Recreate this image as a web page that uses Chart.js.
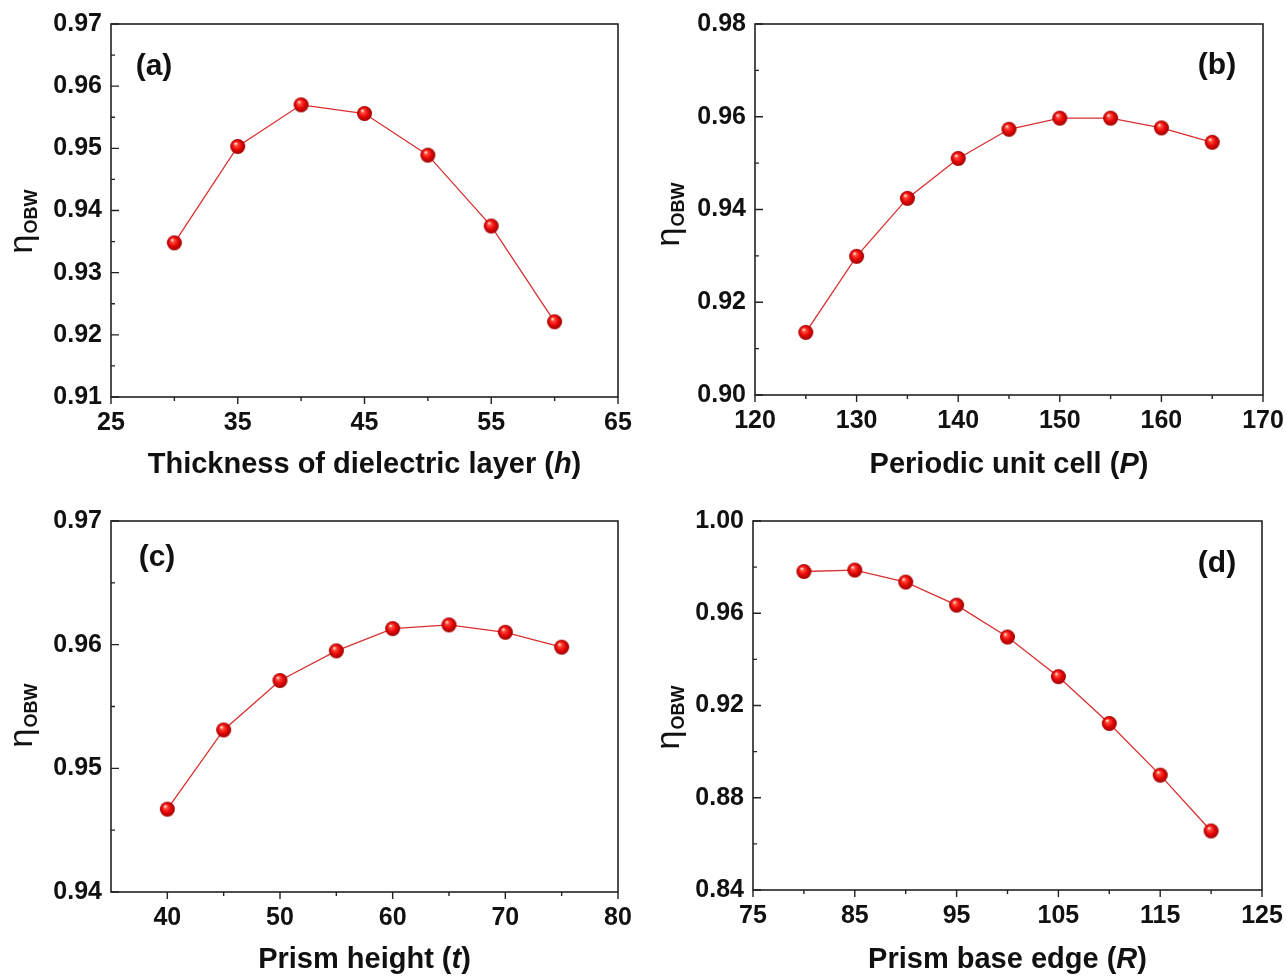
<!DOCTYPE html>
<html>
<head>
<meta charset="utf-8">
<script src="https://cdn.jsdelivr.net/npm/chart.js@4.4.0/dist/chart.umd.min.js"></script>
<style>
  body { margin: 0; background: #fff; }
  #wrap { position: relative; width: 1287px; height: 977px; }
  #wrap canvas { position: absolute; }
</style>
</head>
<body>
<div id="wrap">
  <canvas id="panelA" width="643" height="490" style="left:0;top:0"></canvas>
  <canvas id="panelB" width="644" height="490" style="left:643px;top:0"></canvas>
  <canvas id="panelC" width="643" height="487" style="left:0;top:490px"></canvas>
  <canvas id="panelD" width="644" height="487" style="left:643px;top:490px"></canvas>
</div>
<script>
// (a) thickness of dielectric layer h
var thicknessH = [30, 35, 40, 45, 50, 55, 60];
var etaH = [0.9348, 0.9503, 0.9570, 0.9556, 0.9489, 0.9375, 0.9221];
var xTicksH = [25, 35, 45, 55, 65];
var yTicksH = [0.91, 0.92, 0.93, 0.94, 0.95, 0.96, 0.97];

// (b) periodic unit cell P
var cellP = [125, 130, 135, 140, 145, 150, 155, 160, 165];
var etaP = [0.9135, 0.9299, 0.9424, 0.9510, 0.9573, 0.9597, 0.9597, 0.9576, 0.9545];
var xTicksP = [120, 130, 140, 150, 160, 170];
var yTicksP = [0.90, 0.92, 0.94, 0.96, 0.98];

// (c) prism height t
var heightT = [40, 45, 50, 55, 60, 65, 70, 75];
var etaT = [0.9467, 0.9531, 0.9571, 0.9595, 0.9613, 0.9616, 0.9610, 0.9598];
var xTicksT = [40, 50, 60, 70, 80];
var yTicksT = [0.94, 0.95, 0.96, 0.97];

// (d) prism base edge R
var edgeR = [80, 85, 90, 95, 100, 105, 110, 115, 120];
var etaR = [0.9781, 0.9787, 0.9735, 0.9635, 0.9497, 0.9325, 0.9122, 0.8898, 0.8656];
var xTicksR = [75, 85, 95, 105, 115, 125];
var yTicksR = [0.84, 0.88, 0.92, 0.96, 1.00];

var FONT = '"Liberation Sans", Arial, sans-serif';
var INK = '#111';

// shaded red ball used as the marker
function ball(r) {
  var c = document.createElement('canvas');
  var s = r * 2 + 2;
  c.width = c.height = s;
  var g = c.getContext('2d');
  var m = s / 2;
  var grad = g.createRadialGradient(m - r * 0.3, m - r * 0.4, r * 0.05, m, m, r);
  grad.addColorStop(0, '#fff6e8');
  grad.addColorStop(0.2, '#ff5040');
  grad.addColorStop(0.55, '#ee0a0a');
  grad.addColorStop(1, '#9a0000');
  g.fillStyle = grad;
  g.beginPath();
  g.arc(m, m, r, 0, Math.PI * 2);
  g.fill();
  return c;
}
var dot = ball(7.5);

function midpoints(arr) {
  var out = [];
  for (var i = 0; i < arr.length - 1; i++) out.push((arr[i] + arr[i + 1]) / 2);
  return out;
}

// box, inward y ticks, outward x ticks
var frame = {
  id: 'frame',
  beforeDatasetsDraw: function (chart) {
    var a = chart.chartArea, ctx = chart.ctx;
    var xs = chart.scales.x, ys = chart.scales.y;
    var cfg = chart.options.plugins.frame;
    ctx.save();
    ctx.strokeStyle = '#222';
    ctx.lineWidth = 1.6;
    ctx.strokeRect(a.left, a.top, a.right - a.left, a.bottom - a.top);
    ctx.lineWidth = 1.4;
    ctx.beginPath();
    cfg.xTicks.forEach(function (v) {
      var p = xs.getPixelForValue(v);
      ctx.moveTo(p, a.bottom); ctx.lineTo(p, a.bottom + 7);
    });
    midpoints(cfg.xTicks).forEach(function (v) {
      var p = xs.getPixelForValue(v);
      ctx.moveTo(p, a.bottom); ctx.lineTo(p, a.bottom + 4);
    });
    cfg.yTicks.forEach(function (v) {
      var p = ys.getPixelForValue(v);
      ctx.moveTo(a.left, p); ctx.lineTo(a.left + 8, p);
    });
    midpoints(cfg.yTicks).forEach(function (v) {
      var p = ys.getPixelForValue(v);
      ctx.moveTo(a.left, p); ctx.lineTo(a.left + 4, p);
    });
    ctx.stroke();
    ctx.restore();
  },
  afterDraw: function (chart) {
    var a = chart.chartArea, ctx = chart.ctx;
    var cfg = chart.options.plugins.frame;
    ctx.save();
    ctx.fillStyle = INK;
    ctx.textBaseline = 'alphabetic';

    // x title with italic variable
    var parts = cfg.xTitle, total = 0;
    parts.forEach(function (p) {
      ctx.font = (p[1] ? 'italic ' : '') + 'bold 29px ' + FONT;
      p.w = ctx.measureText(p[0]).width;
      total += p.w;
    });
    var x = (a.left + a.right) / 2 - total / 2;
    parts.forEach(function (p) {
      ctx.font = (p[1] ? 'italic ' : '') + 'bold 29px ' + FONT;
      ctx.textAlign = 'left';
      ctx.fillText(p[0], x, cfg.xTitleY);
      x += p.w;
    });

    // y title: eta with OBW subscript
    ctx.translate(cfg.yTitleX, cfg.yTitleY);
    ctx.rotate(-Math.PI / 2);
    ctx.font = '34px ' + FONT;
    var we = ctx.measureText('\u03B7').width;
    ctx.font = 'bold 18px ' + FONT;
    var ws = ctx.measureText('OBW').width;
    var sx = -(we + ws) / 2;
    ctx.font = '34px ' + FONT;
    ctx.textAlign = 'left';
    ctx.fillText('\u03B7', sx, 0);
    ctx.font = 'bold 18px ' + FONT;
    ctx.fillText('OBW', sx + we + 1, 5);
    ctx.restore();

    // panel letter
    ctx.save();
    ctx.fillStyle = INK;
    ctx.font = 'bold 30px ' + FONT;
    ctx.textAlign = 'center';
    ctx.textBaseline = 'middle';
    ctx.fillText(cfg.tag, cfg.tagX, cfg.tagY);
    ctx.restore();
  }
};

function makePanel(id, cfg) {
  var el = document.getElementById(id);
  var W = el.width, H = el.height;
  var tickFont = { family: FONT, size: 25, weight: 'bold' };
  return new Chart(el, {
    type: 'line',
    data: {
      datasets: [{
        data: cfg.x.map(function (v, i) { return { x: v, y: cfg.y[i] }; }),
        borderColor: '#d83030',
        borderWidth: 1.3,
        pointStyle: dot,
        pointRadius: 7,
        tension: 0
      }]
    },
    options: {
      responsive: false,
      animation: false,
      devicePixelRatio: 1,
      layout: { padding: { top: cfg.area[1], right: W - cfg.area[2], left: 0, bottom: 0 } },
      plugins: {
        legend: { display: false },
        tooltip: { enabled: false },
        frame: cfg
      },
      scales: {
        x: {
          type: 'linear',
          min: cfg.xRange[0],
          max: cfg.xRange[1],
          afterFit: function (s) {
            s.height = H - cfg.area[3];
            s.paddingLeft = 0;
            s.paddingRight = 0;
          },
          afterBuildTicks: function (s) { s.ticks = cfg.xTicks.map(function (v) { return { value: v }; }); },
          grid: { display: false, drawTicks: false },
          border: { display: false },
          ticks: { padding: 11, font: tickFont, color: INK, maxRotation: 0, callback: function (v) { return String(v); } }
        },
        y: {
          min: cfg.yRange[0],
          max: cfg.yRange[1],
          afterFit: function (s) {
            s.width = cfg.area[0];
            s.paddingTop = 0;
            s.paddingBottom = 0;
          },
          afterBuildTicks: function (s) { s.ticks = cfg.yTicks.map(function (v) { return { value: v }; }); },
          grid: { display: false, drawTicks: false },
          border: { display: false },
          ticks: { padding: 9, font: tickFont, color: INK, callback: function (v) { return v.toFixed(2); } }
        }
      }
    },
    plugins: [frame]
  });
}

makePanel('panelA', {
  x: thicknessH, y: etaH, xTicks: xTicksH, yTicks: yTicksH,
  xRange: [25, 65], yRange: [0.91, 0.97],
  area: [111, 24, 618, 397],
  xTitle: [['Thickness of dielectric layer (', false], ['h', true], [')', false]],
  xTitleY: 473, yTitleX: 32, yTitleY: 222,
  tag: '(a)', tagX: 154, tagY: 67
});

makePanel('panelB', {
  x: cellP, y: etaP, xTicks: xTicksP, yTicks: yTicksP,
  xRange: [120, 170], yRange: [0.90, 0.98],
  area: [112, 24, 620, 395],
  xTitle: [['Periodic unit cell (', false], ['P', true], [')', false]],
  xTitleY: 473, yTitleX: 36, yTitleY: 215,
  tag: '(b)', tagX: 574, tagY: 66
});

makePanel('panelC', {
  x: heightT, y: etaT, xTicks: xTicksT, yTicks: yTicksT,
  xRange: [35, 80], yRange: [0.94, 0.97],
  area: [111, 31, 618, 402],
  xTitle: [['Prism height (', false], ['t', true], [')', false]],
  xTitleY: 478, yTitleX: 32, yTitleY: 226,
  tag: '(c)', tagX: 157, tagY: 68
});

makePanel('panelD', {
  x: edgeR, y: etaR, xTicks: xTicksR, yTicks: yTicksR,
  xRange: [75, 125], yRange: [0.84, 1.00],
  area: [110, 31, 619, 400],
  xTitle: [['Prism base edge (', false], ['R', true], [')', false]],
  xTitleY: 478, yTitleX: 36, yTitleY: 228,
  tag: '(d)', tagX: 574, tagY: 74
});
</script>
</body>
</html>
